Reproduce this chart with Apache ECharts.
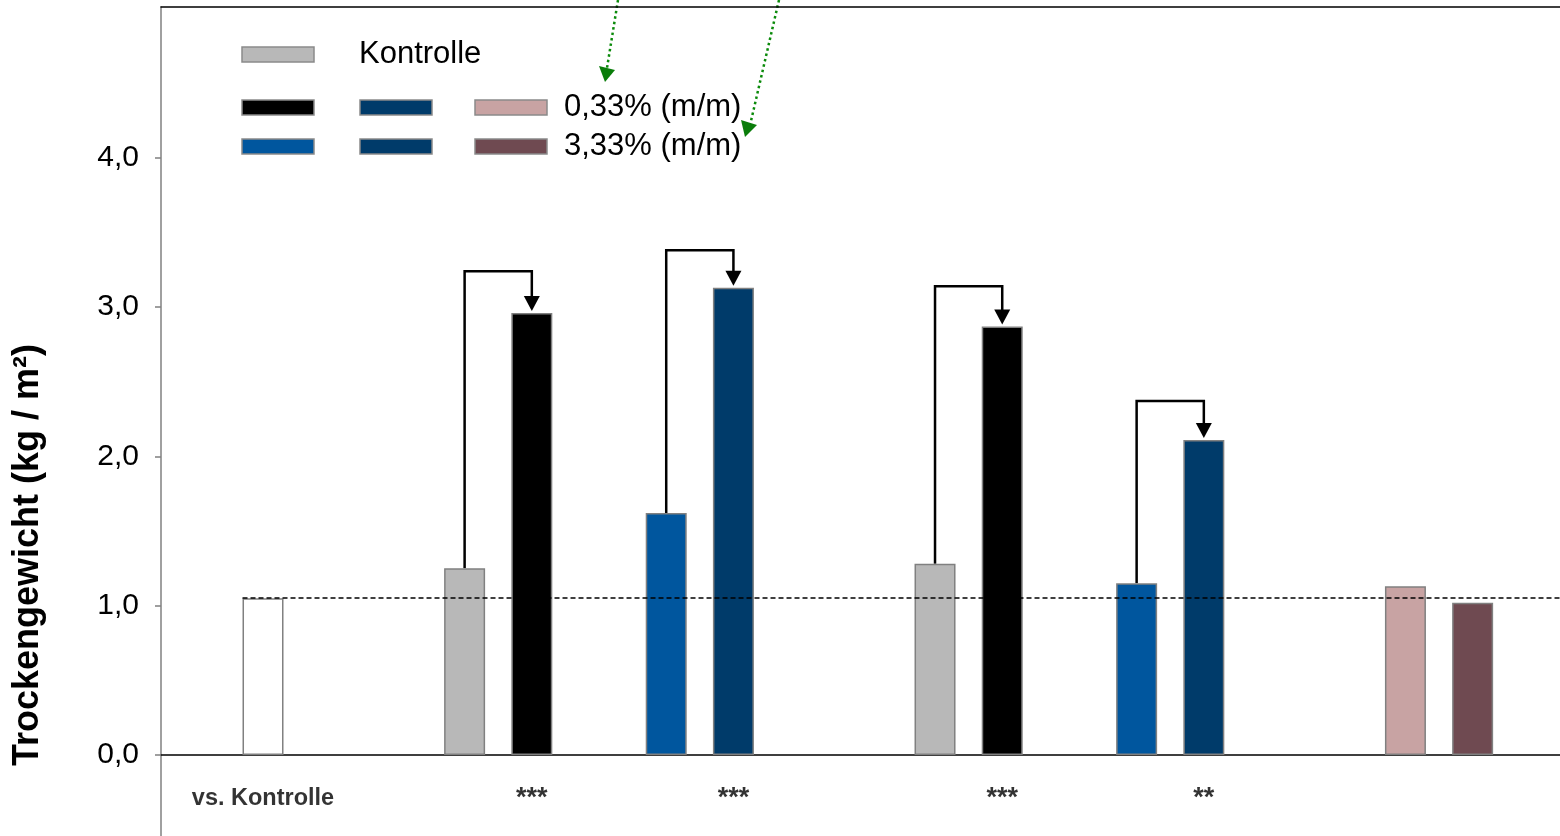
<!DOCTYPE html>
<html>
<head>
<meta charset="utf-8">
<script src="https://cdn.jsdelivr.net/npm/echarts@6/dist/echarts.min.js"></script>
<style>
    html, body { margin: 0; padding: 0; background: #fff; }
    #chart { width: 1560px; height: 836px; }
</style>
</head>
<body>
<div id="chart"></div>
<script>
(function(window) {
    'use strict';

    // Daten
    var barSlots = [1, 4, 5, 7, 8, 11, 12, 14, 15, 18, 19];
    var barValues = [1.05, 1.25, 2.96, 1.62, 3.13, 1.28, 2.87, 1.15, 2.11, 1.13, 1.02];
    var barColors = ['#ffffff', '#b8b8b8', '#000000', '#00569e', '#003b6a',
        '#b8b8b8', '#000000', '#00569e', '#003b6a', '#c8a3a3', '#6f4a51'];
    var controlValue = 1.05;

    // Pfeile (von -> nach)
    var pairFrom = [4, 7, 11, 14];
    var pairFromValues = [1.25, 1.62, 1.28, 1.15];
    var pairTo = [5, 8, 12, 15];
    var pairToValues = [2.96, 3.13, 2.87, 2.11];
    var bracketTops = [3.24, 3.38, 3.14, 2.37];

    // Signifikanz
    var sigSlots = [1, 5, 8, 12, 15];
    var sigLabels = ['vs. Kontrolle', '***', '***', '***', '**'];
    var sigRow = -0.29;

    var yTicks = [0, 1, 2, 3, 4];

    var font = 'Liberation Sans, Arial, sans-serif';
    var xMin = -0.518;
    var xMax = 20.3;

    var chart = echarts.init(document.getElementById('chart'));

    var bars = barSlots.map(function(s, i) {
        return {
            value: [s, barValues[i]],
            itemStyle: { color: barColors[i] }
        };
    });

    var brackets = pairFrom.map(function(s, i) {
        return [s, pairFromValues[i], pairTo[i], pairToValues[i], bracketTops[i]];
    });

    var sigData = sigSlots.map(function(s, i) {
        var first = i === 0;
        return {
            value: [s, sigRow],
            label: {
                formatter: sigLabels[i],
                color: '#000',
                textBorderWidth: 0,
                fontSize: first ? 23.5 : 27,
                fontWeight: 'bold',
                fontFamily: font
            }
        };
    });

    function legendRect(x, y, color) {
        return {
            type: 'rect',
            shape: { x: x, y: y, width: 72, height: 15 },
            style: { fill: color, stroke: '#8a8a8a', lineWidth: 1.5 }
        };
    }

    function legendText(x, y, text) {
        return {
            type: 'text',
            x: x,
            y: y,
            style: {
                text: text,
                font: '31px ' + font,
                fill: '#000',
                verticalAlign: 'middle'
            }
        };
    }

    var option = {
        animation: false,
        backgroundColor: '#fff',
        grid: { left: 161, right: 0, top: 7, bottom: 0, containLabel: false },
        xAxis: [{
            type: 'value',
            min: xMin,
            max: xMax,
            axisLine: { show: true, onZero: true, lineStyle: { color: '#000', width: 1.5 } },
            axisTick: { show: false },
            axisLabel: { show: false },
            splitLine: { show: false }
        }, {
            type: 'value',
            position: 'top',
            min: xMin,
            max: xMax,
            axisLine: { show: true, onZero: false, lineStyle: { color: '#000', width: 1.5 } },
            axisTick: { show: false },
            axisLabel: { show: false },
            splitLine: { show: false }
        }],
        yAxis: {
            type: 'value',
            min: -0.543,
            max: 5.01,
            axisLine: { show: true, onZero: false, lineStyle: { color: '#808080', width: 1.5 } },
            axisTick: {
                show: true,
                length: 6,
                customValues: yTicks,
                lineStyle: { color: '#808080', width: 1.5 }
            },
            axisLabel: {
                customValues: yTicks,
                margin: 22,
                fontFamily: font,
                fontSize: 30,
                color: '#000',
                formatter: function(v) {
                    return v.toFixed(1).replace('.', ',');
                }
            },
            splitLine: { show: false }
        },
        series: [{
            type: 'bar',
            xAxisIndex: 0,
            barWidth: 41,
            itemStyle: { borderColor: '#808080', borderWidth: 1.5 },
            data: bars,
            markLine: {
                silent: true,
                symbol: ['none', 'none'],
                label: { show: false },
                lineStyle: { color: '#000', type: [5, 3], width: 1.5 },
                data: [[
                    { coord: [barSlots[0] - 0.305, controlValue] },
                    { coord: [xMax, controlValue] }
                ]]
            }
        }, {
            type: 'custom',
            xAxisIndex: 0,
            data: brackets,
            renderItem: function(params, api) {
                var a = api.coord([api.value(0), api.value(1)]);
                var t1 = api.coord([api.value(0), api.value(4)]);
                var t2 = api.coord([api.value(2), api.value(4)]);
                var b = api.coord([api.value(2), api.value(3)]);
                var tipY = b[1] - 2;
                var baseY = tipY - 15;
                return {
                    type: 'group',
                    children: [{
                        type: 'polyline',
                        shape: { points: [a, t1, t2, [b[0], baseY + 1]] },
                        style: { stroke: '#000', lineWidth: 2.5, fill: null }
                    }, {
                        type: 'polygon',
                        shape: { points: [[b[0] - 8, baseY], [b[0] + 8, baseY], [b[0], tipY]] },
                        style: { fill: '#000' }
                    }]
                };
            }
        }, {
            type: 'scatter',
            xAxisIndex: 0,
            symbolSize: 0,
            silent: true,
            data: sigData,
            label: {
                show: true,
                position: 'inside',
                color: '#000'
            }
        }],
        graphic: [
            {
                type: 'text',
                x: 28,
                y: 555,
                rotation: Math.PI / 2,
                style: {
                    text: 'Trockengewicht (kg / m²)',
                    font: 'bold 36px ' + font,
                    fill: '#000',
                    align: 'center',
                    verticalAlign: 'middle'
                }
            },
            // Legende
            legendRect(242, 47, '#b8b8b8'),
            legendText(359, 54, 'Kontrolle'),
            legendRect(242, 100, '#000000'),
            legendRect(360, 100, '#003b6a'),
            legendRect(475, 100, '#c8a3a3'),
            legendText(564, 107, '0,33% (m/m)'),
            legendRect(242, 139, '#00569e'),
            legendRect(360, 139, '#003b6a'),
            legendRect(475, 139, '#6f4a51'),
            legendText(564, 146, '3,33% (m/m)'),
            // gruene Hinweispfeile
            {
                type: 'polyline',
                shape: { points: [[618, 0], [607, 68]] },
                style: { stroke: '#0a8a0a', lineWidth: 2.5, lineDash: [2.5, 3], fill: null }
            },
            {
                type: 'polygon',
                shape: { points: [[599, 66], [615, 70], [605, 82]] },
                style: { fill: '#0a7d0a' }
            },
            {
                type: 'polyline',
                shape: { points: [[779, 0], [751, 121]] },
                style: { stroke: '#0a8a0a', lineWidth: 2.5, lineDash: [2.5, 3], fill: null }
            },
            {
                type: 'polygon',
                shape: { points: [[741, 120], [757, 125], [745, 137]] },
                style: { fill: '#0a7d0a' }
            }
        ]
    };

    chart.setOption(option);
})(window);
</script>
</body>
</html>
